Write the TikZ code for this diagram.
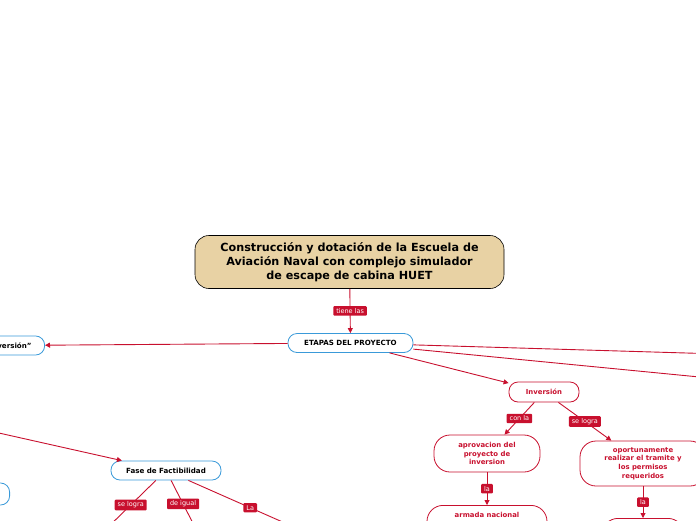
\documentclass[tikz,border=0pt]{standalone}
\usepackage{fontspec}
\setmainfont{DejaVu Sans}
\usepackage{tikz}
\usetikzlibrary{positioning, arrows.meta}
\definecolor{cLink}  {HTML}{C8102E}
\definecolor{cStage} {HTML}{3A9AD9}
\definecolor{cRoot}  {HTML}{E8D2A4}

\begin{document}
\begin{tikzpicture}[x=1pt, y=-1pt,
    root/.style={draw=black, fill=cRoot, line width=0.6pt, rounded corners=14pt,
      minimum width=309pt, minimum height=53pt, align=center,
      font=\bfseries\fontsize{11.2}{14}\selectfont},
    stage/.style={draw=cStage, fill=white, line width=0.8pt, rounded corners=9pt,
      minimum height=19pt, font=\bfseries\fontsize{7.1}{8}\selectfont},
    task/.style={draw=cLink, fill=white, line width=0.8pt, rounded corners=16pt,
      align=center, text=cLink, font=\bfseries\fontsize{6.9}{8.6}\selectfont},
    link/.style={draw=cLink, line width=0.9pt, -{Triangle[length=5pt, width=5pt]}},
    tag/.style={fill=cLink, text=white, rounded corners=1pt, inner xsep=3pt,
      inner ysep=2.2pt, font=\fontsize{6.5}{7}\selectfont},
  ]
  \useasboundingbox (0,0) rectangle (696,520);
  \clip (0,0) rectangle (696,520);

  % central topic and first level
  \node[root] (root) at (349.5,262)
    {Construcción y dotación de la Escuela de\\Aviación Naval con complejo simulador\\de escape de cabina HUET};
  \node[stage, minimum width=125pt] (etapas) at (350.5,343) {ETAPAS DEL PROYECTO};
  \node[stage, minimum width=86pt, anchor=east] (preinv) at (45,345.5) {“Preinversión”};

  % inversion branch
  \node[task, rounded corners=9pt, minimum width=70pt, minimum height=20pt] (inversion) at (544,392) {Inversión};
  \node[task, minimum width=106pt, minimum height=37pt] (aprovacion) at (487,453.5)
    {aprovacion del\\proyecto de\\inversion};
  \node[task, minimum width=126pt, minimum height=45pt] (tramite) at (643,463.5)
    {oportunamente\\realizar el tramite y\\los permisos\\requeridos};
  \node[task, anchor=north, minimum width=120pt, inner ysep=6.5pt, text depth=28pt] (armada) at (487,505)
    {armada nacional};
  \node[task, anchor=north, minimum width=82pt, minimum height=30pt] (permisos) at (643,518) {};

  % factibilidad branch
  \node[stage, minimum width=110pt] (fase) at (166,470.5) {Fase de Factibilidad};
  \node[stage, minimum width=60pt, minimum height=22pt, anchor=east] (otra) at (10,494) {};

  \coordinate (offA) at (720,354);
  \coordinate (offB) at (720,379);
  \coordinate (offC) at (-10,431);
  \coordinate (offD) at (100,535);
  \coordinate (offE) at (199,535);
  \coordinate (offF) at (312,535);

  \draw[link] (root) -- node[tag] {tiene las} (etapas);
  \draw[link] (etapas) -- (preinv);
  \draw[link] (etapas) -- (offA);
  \draw[link] (etapas) -- (offB);
  \draw[link] (etapas) -- (inversion);
  \draw[link] (inversion) -- node[tag] {con la} (aprovacion);
  \draw[link] (inversion) -- node[tag] {se logra} (tramite);
  \draw[link] (aprovacion) -- node[tag] {la} (armada);
  \draw[link] (tramite) -- node[tag] {la} (permisos);
  \draw[link] (offC) -- (fase);
  \draw[link] (fase) -- node[tag, pos=0.45] {se logra} (offD);
  \draw[link] (fase) -- node[tag, pos=0.43] {de igual} (offE);
  \draw[link] (fase) -- node[tag, pos=0.5] {La} (offF);
\end{tikzpicture}
\end{document}
